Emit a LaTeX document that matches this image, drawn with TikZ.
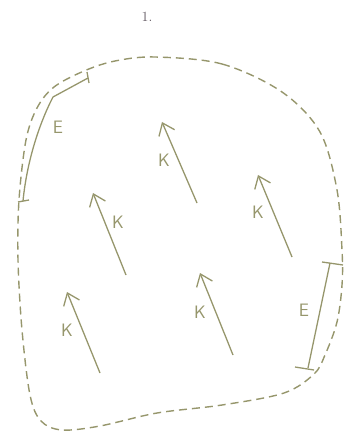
\documentclass[tikz,border=0pt]{standalone}
\usepackage{tikz}
\usetikzlibrary{arrows.meta,calc}
\definecolor{fieldolive}{RGB}{150,150,108}
\definecolor{titlegrey}{RGB}{95,85,95}

\tikzset{
  rim/.style={draw=fieldolive,line width=1.4pt,dash pattern=on 8pt off 5pt},
  kvec/.style={draw=fieldolive,line width=1.3pt,-{Straight Barb[length=11pt,width=17pt]}},
  ebar/.style={draw=fieldolive,line width=1.3pt},
  lbl/.style={text=fieldolive,font=\fontsize{18}{18}\sffamily,inner sep=0pt}
}

\begin{document}
\begin{tikzpicture}[x=1pt,y=-1pt]
\useasboundingbox (0,0) rectangle (352,438);
\node[text=titlegrey,font=\fontsize{14}{14}\selectfont] (title) at (147,17) {1.};

% the closed region
\draw[rim] plot[smooth cycle,tension=0.55] coordinates {
  (155,57) (222,64) (282,92) (320,132) (337,190) (342,250) (342,285)
  (337,322) (325,355) (314,374) (284,393) (222,405) (157,413) (100,426) (62,430)
  (41,421) (30,395) (22,330) (18,260) (19,200) (26,140) (37,108) (54,87) (84,71) (115,61)};

% field vectors
\foreach \name/\tx/\ty/\hx/\hy/\lx/\ly in {
    ka/197/203/162/122/164/160,
    kb/126/275/93/193/118/222,
    kc/292/257/258/175/258/212,
    kd/100/373/67/292/67/330,
    ke/233/355/200/273/200/312}{
  \coordinate (\name-t) at (\tx,\ty);
  \coordinate (\name-h) at (\hx,\hy);
  \draw[kvec] (\name-t) -- (\name-h);
  \node[lbl] (\name-lbl) at (\lx,\ly) {K};
}

% edge stretches
\coordinate (ea-top) at (88,78);
\coordinate (ea-bot) at (23,201);
\draw[ebar] (ea-top) -- (53,97) .. controls (40,122) and (27,160) .. (ea-bot);
\draw[ebar] ($(ea-top)+(-1,-6)$) -- ($(ea-top)+(1,5)$);
\draw[ebar] ($(ea-bot)+(-5,1)$) -- ($(ea-bot)+(6,-1)$);
\node[lbl] (ea-lbl) at (58,127) {E};

\coordinate (eb-top) at (330,263);
\coordinate (eb-bot) at (308,368);
\draw[ebar] (eb-top) -- (eb-bot);
\draw[ebar] ($(eb-top)+(-8,-1)$) -- ($(eb-top)+(13,2)$);
\draw[ebar] ($(eb-bot)+(-13,-1)$) -- ($(eb-bot)+(6,2)$);
\node[lbl] (eb-lbl) at (304,310) {E};
\end{tikzpicture}
\end{document}
